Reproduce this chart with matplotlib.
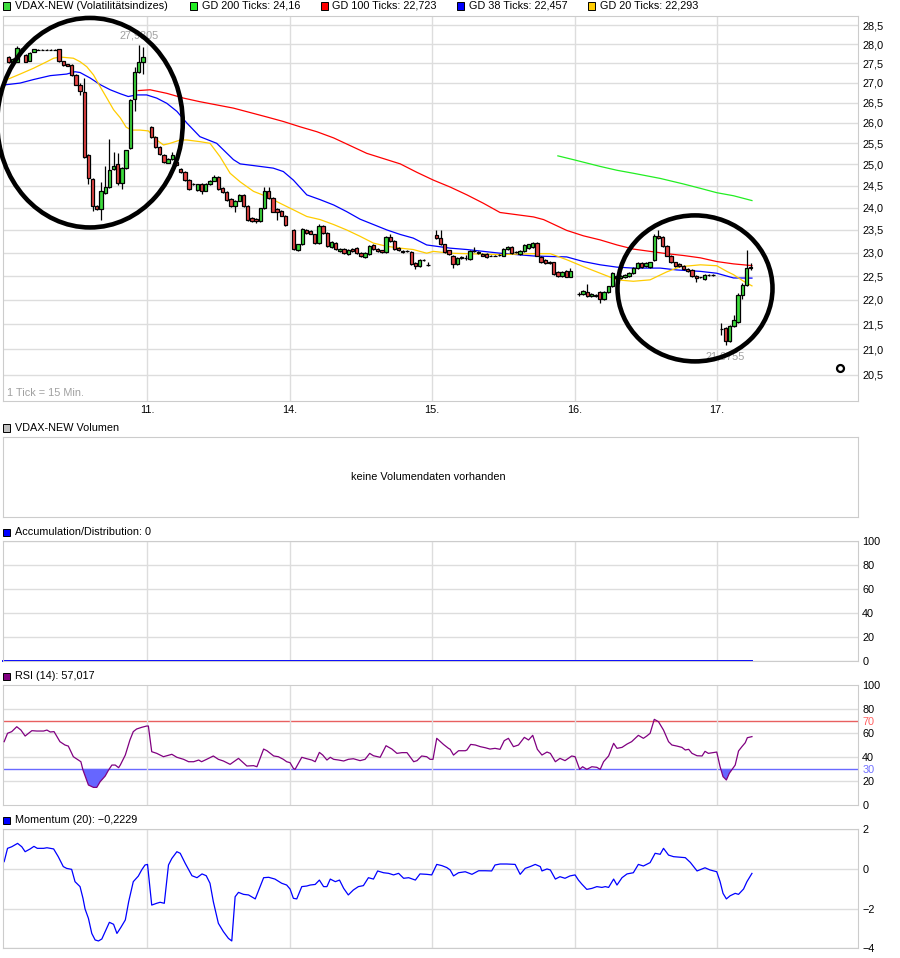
import matplotlib
matplotlib.use('Agg')
import matplotlib.pyplot as plt
from matplotlib.patches import Rectangle, Ellipse
from matplotlib.ticker import FixedLocator, NullLocator, FuncFormatter
import numpy as np

plt.rcParams['font.family'] = ['Liberation Sans', 'DejaVu Sans']

# ---------------- data ----------------
day_labels = ['11.', '14.', '15.', '16.', '17.']
day_lines = [34, 68, 102, 136, 170]             # tick index of each day start
day_first_tick = [1, 35, 69, 103, 137, 171]     # first candle of 10. .. 17.
price_ticks = [20.5, 21.0, 21.5, 22.0, 22.5, 23.0, 23.5, 24.0, 24.5,
               25.0, 25.5, 26.0, 26.5, 27.0, 27.5, 28.0, 28.5]

# candles (open, high, low, close), one list per trading day
day10 = [(27.65, 27.68, 27.50, 27.52), (27.52, 27.63, 27.50, 27.60), (27.54, 27.95, 27.52, 27.90),
         (27.88, 27.90, 27.83, 27.86), (27.71, 27.74, 27.52, 27.54), (27.57, 27.80, 27.55, 27.77),
         (27.79, 27.88, 27.78, 27.87), (27.85, 27.87, 27.84, 27.85), (27.85, 27.88, 27.84, 27.85),
         (27.85, 27.87, 27.84, 27.85), (27.85, 27.88, 27.84, 27.85), (27.85, 27.87, 27.84, 27.85),
         (27.86, 27.88, 27.53, 27.55), (27.55, 27.56, 27.44, 27.46), (27.47, 27.49, 27.42, 27.44),
         (27.46, 27.48, 27.18, 27.20), (27.20, 27.22, 26.93, 26.95), (26.93, 27.00, 26.69, 26.79),
         (26.77, 27.11, 25.15, 25.17), (25.22, 25.24, 24.55, 24.67), (24.65, 24.67, 23.93, 24.04),
         (24.04, 24.06, 23.95, 23.97), (23.97, 24.58, 23.73, 24.37), (24.33, 24.96, 24.31, 24.47),
         (24.47, 25.61, 24.45, 24.87), (24.88, 25.29, 24.86, 24.96), (25.01, 25.26, 24.52, 24.56),
         (24.56, 24.93, 24.43, 24.91), (24.91, 25.35, 24.89, 25.33), (25.38, 26.58, 25.36, 26.56),
         (26.58, 27.40, 26.30, 27.27), (27.27, 27.9805, 27.25, 27.53), (27.53, 27.92, 27.23, 27.67)]
day11 = [(25.90, 25.92, 25.63, 25.65), (25.65, 25.67, 25.38, 25.42), (25.42, 25.44, 25.22, 25.25),
         (25.23, 25.25, 25.04, 25.06), (25.04, 25.15, 25.02, 25.13), (25.13, 25.30, 25.11, 25.23),
         (25.05, 25.07, 24.96, 24.98), (24.90, 24.92, 24.80, 24.82), (24.83, 24.85, 24.62, 24.64),
         (24.64, 24.66, 24.40, 24.42), (24.53, 24.57, 24.51, 24.55), (24.40, 24.55, 24.38, 24.53),
         (24.54, 24.56, 24.32, 24.39), (24.39, 24.56, 24.37, 24.54), (24.54, 24.64, 24.52, 24.62),
         (24.62, 24.76, 24.60, 24.70), (24.70, 24.72, 24.40, 24.42), (24.44, 24.46, 24.33, 24.35),
         (24.35, 24.37, 24.16, 24.18), (24.19, 24.21, 24.02, 24.04), (24.04, 24.18, 23.91, 24.16),
         (24.16, 24.31, 24.14, 24.29), (24.29, 24.31, 24.01, 24.03), (24.03, 24.05, 23.71, 23.73),
         (23.77, 23.79, 23.67, 23.69), (23.75, 23.77, 23.65, 23.69), (23.69, 24.00, 23.67, 23.98),
         (23.99, 24.46, 23.97, 24.37), (24.37, 24.46, 24.19, 24.21), (24.21, 24.23, 23.89, 23.91),
         (23.97, 23.99, 23.72, 23.91), (23.93, 23.95, 23.80, 23.82), (23.82, 23.84, 23.59, 23.61)]
day14 = [(23.50, 23.52, 23.06, 23.08), (23.05, 23.20, 23.03, 23.18), (23.18, 23.54, 23.16, 23.52),
         (23.50, 23.52, 23.41, 23.43), (23.47, 23.49, 23.40, 23.42), (23.40, 23.42, 23.19, 23.21),
         (23.21, 23.64, 23.19, 23.58), (23.58, 23.60, 23.41, 23.43), (23.43, 23.45, 23.13, 23.15),
         (23.13, 23.26, 23.11, 23.24), (23.22, 23.24, 23.06, 23.08), (23.03, 23.10, 23.01, 23.08),
         (23.08, 23.10, 22.97, 22.99), (22.97, 23.08, 22.95, 23.06), (23.08, 23.10, 23.01, 23.03),
         (23.10, 23.12, 22.98, 23.00), (22.99, 23.01, 22.90, 22.92), (22.91, 23.01, 22.89, 22.99),
         (22.98, 23.17, 22.96, 23.15), (23.17, 23.19, 23.06, 23.08), (23.08, 23.10, 23.01, 23.03),
         (23.05, 23.07, 22.99, 23.01), (23.01, 23.37, 22.99, 23.35), (23.35, 23.40, 23.24, 23.26),
         (23.26, 23.28, 23.06, 23.08), (23.10, 23.12, 23.03, 23.05), (23.03, 23.05, 22.99, 23.01),
         (23.03, 23.05, 23.01, 23.03), (23.01, 23.03, 22.73, 22.75), (22.77, 22.79, 22.64, 22.72),
         (22.72, 22.87, 22.70, 22.85), (22.85, 22.87, 22.83, 22.85), (22.74, 22.80, 22.72, 22.74)]
day15 = [(23.38, 23.50, 23.31, 23.33), (23.33, 23.50, 23.16, 23.18), (23.18, 23.20, 22.99, 23.01),
         (23.05, 23.07, 22.95, 22.97), (22.94, 22.96, 22.68, 22.75), (22.75, 22.91, 22.73, 22.89),
         (22.89, 22.92, 22.87, 22.90), (22.89, 22.95, 22.84, 22.89), (22.87, 23.06, 22.85, 23.04),
         (23.04, 23.13, 23.02, 23.04), (22.99, 23.03, 22.97, 23.01), (22.98, 23.00, 22.92, 22.94),
         (22.98, 23.00, 22.89, 22.91), (22.94, 22.96, 22.92, 22.94), (22.94, 22.96, 22.92, 22.94),
         (22.96, 22.98, 22.94, 22.96), (22.94, 23.10, 22.92, 23.08), (23.08, 23.15, 23.06, 23.13),
         (23.13, 23.15, 22.97, 22.99), (23.01, 23.03, 22.99, 23.01), (22.98, 23.05, 22.96, 23.03),
         (23.03, 23.18, 23.01, 23.16), (23.11, 23.20, 23.09, 23.18), (23.13, 23.24, 23.11, 23.22),
         (23.22, 23.24, 22.92, 22.94), (22.91, 22.93, 22.78, 22.80), (22.84, 22.86, 22.75, 22.77),
         (22.81, 22.83, 22.75, 22.77), (22.79, 22.81, 22.53, 22.55), (22.58, 22.60, 22.49, 22.51),
         (22.51, 22.60, 22.49, 22.58), (22.60, 22.62, 22.47, 22.49), (22.49, 22.67, 22.47, 22.60)]
day16 = [(22.13, 22.17, 22.08, 22.13), (22.13, 22.20, 22.11, 22.18), (22.16, 22.33, 22.07, 22.09),
         (22.08, 22.15, 22.06, 22.13), (22.11, 22.13, 22.06, 22.08), (22.17, 22.19, 21.93, 22.02),
         (22.02, 22.18, 22.00, 22.16), (22.16, 22.30, 22.14, 22.28), (22.28, 22.58, 22.26, 22.56),
         (22.45, 22.52, 22.28, 22.50), (22.46, 22.53, 22.44, 22.51), (22.48, 22.55, 22.46, 22.53),
         (22.51, 22.58, 22.49, 22.56), (22.56, 22.69, 22.54, 22.67), (22.67, 22.80, 22.65, 22.78),
         (22.78, 22.80, 22.67, 22.69), (22.71, 22.80, 22.69, 22.78), (22.70, 22.81, 22.68, 22.79),
         (22.85, 23.40, 22.83, 23.37), (23.37, 23.50, 23.30, 23.32), (23.34, 23.36, 23.13, 23.15),
         (23.15, 23.17, 22.92, 22.94), (22.93, 22.95, 22.77, 22.79), (22.79, 22.81, 22.70, 22.72),
         (22.76, 22.78, 22.69, 22.71), (22.72, 22.74, 22.63, 22.65), (22.65, 22.67, 22.58, 22.60),
         (22.62, 22.64, 22.48, 22.50), (22.50, 22.52, 22.38, 22.45), (22.47, 22.49, 22.45, 22.47),
         (22.44, 22.54, 22.42, 22.52), (22.52, 22.54, 22.50, 22.52), (22.52, 22.55, 22.50, 22.52)]
day17 = [(21.41, 21.53, 21.29, 21.41), (21.43, 21.45, 21.0755, 21.17), (21.17, 21.48, 21.15, 21.46),
         (21.46, 21.68, 21.44, 21.58), (21.55, 22.15, 21.53, 22.10), (22.11, 22.35, 22.02, 22.31),
         (22.31, 23.06, 22.29, 22.67), (22.67, 22.78, 22.62, 22.70)]

# moving averages as (tick, value)
gd20 = [(-0.3, 27.04), (3.7, 27.22), (6.9, 27.37), (10.1, 27.54), (11.7, 27.63), (13.3, 27.66),
        (16.4, 27.63), (18.0, 27.54), (19.6, 27.41), (21.2, 27.20), (22.8, 26.90), (24.4, 26.61),
        (26.0, 26.32), (27.6, 26.12), (29.0, 25.89), (30.3, 25.82), (32.3, 25.82), (34.3, 25.80),
        (36.3, 25.58), (37.9, 25.46), (39.5, 25.50), (41.9, 25.58), (43.5, 25.58), (46.6, 25.54),
        (49.0, 25.50), (51.4, 25.18), (53.8, 24.79), (56.2, 24.59), (59.4, 24.37), (62.6, 24.25),
        (65.7, 24.10), (68.9, 23.95), (72.1, 23.80), (75.3, 23.73), (78.5, 23.62), (81.6, 23.50),
        (84.8, 23.36), (88.0, 23.21), (91.2, 23.14), (94.4, 23.10), (97.5, 23.07), (100.7, 22.99),
        (102.3, 23.03), (106.3, 22.99), (110.3, 22.98), (118.2, 22.96), (126.2, 22.98), (130.2, 22.98),
        (134.1, 22.85), (138.1, 22.70), (142.1, 22.56), (146.1, 22.42), (150.0, 22.39), (154.0, 22.42),
        (158.0, 22.59), (161.2, 22.70), (166.0, 22.74), (169.9, 22.72), (172.3, 22.60), (173.9, 22.53),
        (176.3, 22.39), (178.3, 22.293)]
gd38 = [(-0.3, 26.94), (3.7, 26.99), (6.9, 27.08), (10.9, 27.18), (14.8, 27.22), (16.8, 27.28),
        (18.0, 27.26), (20.4, 27.12), (22.8, 26.95), (25.2, 26.82), (27.6, 26.72), (29.5, 26.65),
        (31.5, 26.69), (33.9, 26.69), (36.3, 26.61), (38.7, 26.48), (41.1, 26.28), (43.5, 25.99),
        (46.6, 25.66), (50.6, 25.50), (54.6, 25.11), (56.2, 25.01), (59.4, 24.97), (64.1, 24.91),
        (66.5, 24.83), (68.9, 24.63), (72.1, 24.29), (75.3, 24.18), (78.5, 24.06), (81.6, 23.91),
        (84.8, 23.74), (88.0, 23.62), (91.2, 23.50), (94.4, 23.40), (97.5, 23.32), (100.7, 23.17),
        (102.3, 23.15), (106.3, 23.10), (110.3, 23.07), (118.2, 22.99), (126.2, 22.93), (134.1, 22.91),
        (138.1, 22.81), (142.1, 22.74), (146.1, 22.69), (150.0, 22.67), (156.4, 22.67), (160.4, 22.63),
        (166.0, 22.60), (169.9, 22.56), (173.9, 22.46), (178.3, 22.457)]
gd100 = [(31.9, 26.80), (34.7, 26.82), (38.7, 26.73), (42.7, 26.61), (46.6, 26.52), (50.6, 26.44),
         (54.6, 26.36), (58.6, 26.25), (62.6, 26.14), (66.5, 26.03), (70.5, 25.90), (74.5, 25.78),
         (78.5, 25.63), (86.4, 25.26), (94.4, 25.01), (98.4, 24.81), (102.3, 24.63), (106.3, 24.47),
         (110.3, 24.29), (114.2, 24.10), (118.2, 23.89), (122.2, 23.84), (126.2, 23.79), (128.6, 23.73),
         (134.1, 23.49), (138.1, 23.37), (142.1, 23.28), (146.1, 23.17), (150.0, 23.08), (154.0, 23.03),
         (158.0, 22.98), (162.0, 22.94), (166.0, 22.89), (169.9, 22.81), (173.9, 22.76), (178.3, 22.723)]
gd200 = [(132.0, 25.20), (135.7, 25.11), (142.1, 24.95), (146.1, 24.86), (150.0, 24.79),
         (156.4, 24.67), (162.0, 24.54), (166.0, 24.44), (169.9, 24.34), (173.9, 24.27), (178.3, 24.16)]

event_t = [199.4]
event_p = [20.63]

ad_line = [(-0.5, 0.0), (178.3, 0.0)]

rsi = [(-0.1, 52.8), (0.7, 59.8), (1.7, 61.2), (2.9, 65.3), (3.9, 62.5), (4.9, 57.5), (6.5, 62.0),
       (7.7, 61.7), (9.3, 61.7), (10.1, 62.5), (10.9, 60.9), (11.8, 61.2), (13.2, 52.8), (14.4, 50.0),
       (15.2, 49.1), (16.4, 40.2), (17.6, 37.4), (18.2, 36.0), (18.7, 29.0), (20.0, 16.5), (21.2, 14.5),
       (22.0, 14.5), (22.8, 19.3), (24.0, 24.0), (24.8, 29.0), (25.6, 33.2), (26.4, 33.2), (27.2, 31.0),
       (27.6, 33.2), (28.8, 41.6), (29.9, 54.2), (30.7, 61.2), (31.5, 63.4), (32.7, 64.8), (33.9, 65.9),
       (34.3, 65.9), (35.1, 44.4), (36.3, 43.0), (37.9, 40.2), (39.9, 42.2), (41.1, 39.7), (42.7, 38.0),
       (43.9, 36.0), (45.1, 36.0), (46.3, 37.4), (47.0, 36.0), (48.2, 38.0), (49.8, 40.8), (51.0, 38.0),
       (52.2, 36.6), (53.8, 33.8), (55.8, 38.8), (57.8, 32.4), (59.4, 32.7), (60.2, 31.8), (61.8, 46.6),
       (62.6, 45.2), (64.2, 40.8), (65.3, 40.2), (66.5, 38.0), (67.3, 36.0), (68.1, 35.2), (68.9, 30.4),
       (69.3, 29.6), (70.9, 39.7), (72.1, 38.5), (73.3, 37.4), (74.1, 36.0), (75.1, 43.8), (75.9, 41.6),
       (76.9, 37.4), (77.7, 39.7), (78.5, 38.0), (79.7, 37.4), (80.9, 36.6), (82.0, 38.0), (83.2, 38.5),
       (84.8, 36.9), (86.0, 38.0), (87.1, 43.0), (88.0, 41.0), (89.6, 39.7), (91.0, 49.4), (92.4, 46.6),
       (93.6, 43.0), (94.8, 43.6), (96.0, 43.6), (97.6, 36.0), (98.4, 36.9), (99.5, 40.8), (100.7, 40.2),
       (101.5, 38.0), (102.2, 38.0), (103.1, 55.6), (104.7, 50.5), (105.9, 47.2), (106.3, 46.4),
       (107.1, 41.6), (108.3, 45.2), (109.9, 45.2), (110.3, 45.8), (111.2, 50.5), (112.3, 50.0),
       (113.5, 48.6), (114.7, 47.7), (115.8, 46.6), (117.0, 47.2), (118.2, 46.4), (119.2, 53.6),
       (120.2, 55.6), (121.4, 48.6), (122.6, 50.0), (124.0, 56.4), (125.0, 54.2), (126.0, 58.1),
       (127.1, 46.4), (128.2, 41.6), (129.4, 44.1), (130.2, 43.0), (131.4, 36.0), (132.5, 38.8),
       (133.7, 36.9), (134.5, 38.8), (135.3, 40.8), (136.1, 40.2), (137.2, 29.6), (137.9, 31.8),
       (138.9, 29.6), (140.1, 31.8), (141.3, 31.3), (142.1, 29.6), (142.9, 36.0), (144.1, 40.8),
       (145.3, 51.4), (146.1, 47.2), (147.3, 48.0), (148.5, 50.8), (149.6, 52.8), (151.2, 58.1),
       (152.4, 55.6), (153.2, 57.5), (154.0, 59.8), (155.0, 71.5), (156.0, 69.5), (157.2, 62.5),
       (158.4, 52.8), (159.2, 50.0), (160.4, 49.1), (161.6, 48.0), (162.4, 45.8), (163.2, 46.4),
       (164.0, 43.0), (165.2, 41.0), (166.4, 40.8), (167.1, 44.7), (167.9, 43.0), (169.9, 44.1),
       (170.7, 31.8), (171.4, 23.5), (172.2, 20.7), (172.9, 26.3), (174.3, 33.2), (175.1, 45.0),
       (175.9, 48.6), (176.7, 51.9), (177.2, 56.1), (178.3, 57.017)]

momentum = [(-0.1, 0.37), (0.7, 1.04), (1.7, 1.12), (3.1, 1.29), (4.1, 1.12), (4.9, 0.87), (6.1, 1.01),
            (7.0, 1.14), (7.8, 1.04), (9.3, 1.04), (10.1, 1.07), (11.7, 1.01), (12.8, 0.62), (14.0, 0.12),
            (14.8, 0.03), (16.0, -0.02), (16.8, -0.64), (18.0, -0.89), (18.7, -1.48), (19.2, -2.02),
            (20.0, -2.49), (20.8, -3.25), (21.6, -3.58), (22.4, -3.63), (23.2, -3.53), (24.0, -3.16),
            (25.0, -2.69), (26.0, -2.79), (26.8, -3.25), (27.7, -2.96), (28.8, -2.57), (29.6, -1.65),
            (30.7, -0.64), (31.9, -0.36), (32.7, -0.05), (33.5, 0.20), (34.1, 0.23), (35.1, -1.82),
            (36.3, -1.73), (37.1, -1.68), (38.1, -1.73), (39.1, 0.20), (39.9, 0.53), (41.1, 0.87),
            (41.9, 0.79), (43.1, 0.28), (44.7, -0.34), (45.9, -0.44), (47.1, -0.25), (48.1, -0.34),
            (49.0, -0.72), (49.8, -1.65), (51.0, -2.74), (52.2, -3.16), (53.4, -3.50), (54.2, -3.63),
            (55.0, -1.40), (55.8, -1.18), (57.0, -1.28), (58.2, -1.31), (59.8, -1.51), (61.8, -0.44),
            (63.0, -0.42), (64.5, -0.51), (66.1, -0.72), (67.3, -0.81), (68.1, -1.01), (68.9, -1.48),
            (69.7, -1.51), (70.9, -0.89), (72.1, -0.86), (72.9, -0.81), (74.1, -0.78), (75.1, -0.56),
            (76.1, -0.89), (76.9, -0.89), (77.7, -0.51), (78.9, -0.64), (79.9, -0.56), (80.9, -0.98),
            (82.0, -1.31), (83.2, -1.06), (84.4, -0.89), (85.6, -0.84), (86.8, -0.44), (88.0, -0.51),
            (89.0, -0.10), (90.4, -0.19), (91.6, -0.22), (92.8, -0.30), (94.0, -0.22), (95.2, -0.47),
            (96.4, -0.44), (98.0, -0.56), (99.1, -0.25), (100.7, -0.27), (101.9, -0.30), (103.1, 0.23),
            (104.3, 0.17), (105.5, 0.07), (106.3, -0.05), (107.1, -0.35), (108.3, -0.19), (109.9, -0.14),
            (111.5, -0.27), (113.1, -0.09), (114.7, -0.09), (116.2, -0.10), (117.0, 0.20), (118.2, 0.25),
            (119.8, 0.25), (121.8, 0.23), (123.0, -0.27), (124.2, 0.03), (125.4, 0.12), (126.6, 0.23),
            (127.8, 0.12), (128.2, -0.10), (129.4, 0.00), (130.2, -0.05), (131.4, -0.51), (132.5, -0.39),
            (133.7, -0.47), (134.9, -0.35), (136.1, -0.30), (136.9, -0.56), (137.7, -0.76), (138.9, -1.03),
            (140.1, -0.98), (141.3, -0.89), (142.5, -0.93), (143.3, -0.89), (144.1, -0.93), (145.3, -0.51),
            (146.1, -0.81), (147.3, -0.44), (148.5, -0.25), (150.0, -0.19), (151.2, 0.23), (152.4, 0.15),
            (154.0, 0.32), (155.2, 0.79), (156.4, 0.74), (157.2, 1.04), (158.4, 0.70), (159.6, 0.62),
            (161.2, 0.59), (162.4, 0.57), (163.6, 0.33), (165.2, -0.10), (167.1, 0.06), (168.3, -0.05),
            (169.9, -0.14), (170.7, -0.64), (171.4, -1.23), (172.2, -1.51), (173.1, -1.35), (174.3, -1.23),
            (175.1, -1.28), (176.3, -1.01), (177.1, -0.64), (178.3, -0.2229)]

# ---------------- layout helpers ----------------
W, H = 900, 958
GREEN, RED = '#3ddc3d', '#e84545'
GRID, SPINE = '#dddddd', '#cccccc'
FS = 7.8
XLIM = (-0.5, 203.6)

fig = plt.figure(figsize=(W / 100, H / 100), dpi=100)


def panel(top, bottom, left=2.5, right=858):
    ax = fig.add_axes([left / W, 1 - bottom / H, (right - left) / W, (bottom - top) / H])
    for s in ax.spines.values():
        s.set_color(SPINE)
    ax.set_xlim(*XLIM)
    ax.tick_params(length=0, labelsize=FS)
    return ax


def indicator(ax, ticks):
    # lower panels: right hand labels, day grid, no x labels
    ax.yaxis.tick_right()
    ax.set_yticks(ticks)
    ax.set_xticks(day_lines)
    ax.tick_params(axis='x', labelbottom=False)
    ax.tick_params(axis='y', pad=3)


def title(x, y, text, color):
    fig.add_artist(Rectangle((x / W, 1 - (y + 3.5) / H), 7 / W, 7 / H, transform=fig.transFigure,
                             facecolor=color, edgecolor='black', lw=0.7))
    fig.text((x + 11.5) / W, 1 - y / H, text, fontsize=FS, va='center', ha='left')


def comma(v, _=None):
    return f'{v:.1f}'.replace('.', ',')


# ---------------- main price panel ----------------
t, o, h, l, c = [], [], [], [], []
for start, rows in zip(day_first_tick, [day10, day11, day14, day15, day16, day17]):
    for k, (oo, hh, ll, cc) in enumerate(rows):
        t.append(start + k)
        o.append(oo); h.append(hh); l.append(ll); c.append(cc)
t, o, h, l, c = map(np.array, (t, o, h, l, c))

ax = panel(15.7, 401)
ax.set_yscale('log')
ax.set_ylim(20.0, 28.76)
ax.yaxis.set_major_locator(FixedLocator(price_ticks))
ax.yaxis.set_minor_locator(NullLocator())
ax.yaxis.set_major_formatter(FuncFormatter(comma))
ax.yaxis.set_minor_formatter(FuncFormatter(lambda v, p: ''))
ax.yaxis.tick_right()
ax.set_xticks(day_lines, day_labels)
ax.tick_params(axis='y', pad=3)
ax.tick_params(axis='x', pad=3)
ax.grid(True, color=GRID, lw=1)
ax.set_axisbelow(True)

for pts, col in [(gd200, '#22ee22'), (gd100, '#ff0000'), (gd38, '#0000ff'), (gd20, '#ffcc00')]:
    pt, pv = np.array(pts).T
    ax.plot(pt, pv, color=col, lw=0.9, zorder=2)

ax.vlines(t, l, h, color='black', lw=0.9, zorder=3)
up = c >= o
ax.bar(t[up], (c - o)[up], bottom=o[up], width=0.8, color=GREEN, edgecolor='black', lw=0.9, zorder=4)
ax.bar(t[~up], (o - c)[~up], bottom=c[~up], width=0.8, color=RED, edgecolor='black', lw=0.9, zorder=4)

i_hi, i_lo = np.argmax(h), np.argmin(l)
ax.annotate(f'{h[i_hi]:.4f}'.replace('.', ','), (t[i_hi], h[i_hi]), xytext=(0, 6.5),
            textcoords='offset points', ha='center', va='center', fontsize=FS, color='#a0a0a0')
ax.annotate(f'{l[i_lo]:.4f}'.replace('.', ','), (t[i_lo], l[i_lo]), xytext=(0, -8.3),
            textcoords='offset points', ha='center', va='center', fontsize=FS, color='#a0a0a0')
ax.text(0.005, 0.021, '1 Tick = 15 Min.', transform=ax.transAxes, fontsize=FS, color='#a0a0a0',
        va='center')
ax.plot(event_t, event_p, 'o', ms=5, mfc='white', mec='black', mew=1.6, zorder=5)

title(3.3, 6, 'VDAX-NEW (Volatilitätsindizes)', GREEN)
title(190, 6, 'GD 200 Ticks: 24,16', '#22ee22')
title(320.7, 6, 'GD 100 Ticks: 22,723', '#ff0000')
title(457.3, 6, 'GD 38 Ticks: 22,457', '#0000ff')
title(588.3, 6, 'GD 20 Ticks: 22,293', '#ffcc00')

# hand-drawn circles
for cx, cy, ew, eh in [(90, 122.7, 185.5, 209.5), (695, 288.4, 155, 146)]:
    fig.add_artist(Ellipse((cx / W, 1 - cy / H), ew / W, eh / H, transform=fig.transFigure,
                           fill=False, edgecolor='black', lw=3.3, zorder=10))

# ---------------- volume panel ----------------
axv = panel(437, 516.7)
axv.set_xticks([]); axv.set_yticks([])
axv.text(0.498, 0.5, 'keine Volumendaten vorhanden', transform=axv.transAxes, ha='center',
         va='center', fontsize=FS)
title(3.3, 428, 'VDAX-NEW Volumen', '#c0c0c0')

# ---------------- accumulation / distribution ----------------
axa = panel(541.3, 660.7)
axa.set_ylim(0, 100)
indicator(axa, [0, 20, 40, 60, 80, 100])
axa.grid(True, color=GRID, lw=1)
axa.set_axisbelow(True)
at, av = np.array(ad_line).T
axa.plot(at, av, color='#0000ff', lw=1.4, clip_on=False)
title(3.3, 532, 'Accumulation/Distribution: 0', '#0000ff')

# ---------------- RSI ----------------
axr = panel(685.3, 804.7)
axr.set_ylim(0, 100)
indicator(axr, [0, 20, 30, 40, 60, 70, 80, 100])
axr.grid(True, axis='x', color=GRID, lw=1)
for g in [20, 40, 60, 80]:
    axr.axhline(g, color=GRID, lw=1, zorder=0)
axr.axhline(70, color='#e86060', lw=1, zorder=1)
axr.axhline(30, color='#6a6aff', lw=1, zorder=1)
for lab in axr.get_yticklabels():
    if lab.get_text() == '70':
        lab.set_color('#ff6060')
    elif lab.get_text() == '30':
        lab.set_color('#7070ff')
rt, rv = np.array(rsi).T
axr.fill_between(rt, rv, 30, where=rv < 30, interpolate=True, color='#6666ff', lw=0, zorder=2)
axr.plot(rt, rv, color='#800080', lw=0.9, zorder=3)
title(3.3, 676, 'RSI (14): 57,017', '#800080')

# ---------------- Momentum ----------------
axm = panel(829.3, 948.3)
axm.set_ylim(-4, 2)
indicator(axm, [-4, -2, 0, 2])
axm.yaxis.set_major_formatter(FuncFormatter(lambda v, p: f'{v:g}'.replace('-', '\u2212')))
axm.grid(True, color=GRID, lw=1)
axm.set_axisbelow(True)
mt, mv = np.array(momentum).T
axm.plot(mt, mv, color='#0000ff', lw=0.9)
title(3.3, 820, 'Momentum (20): \u22120,2229', '#0000ff')

fig.savefig('out.png', dpi=100, facecolor='white')
